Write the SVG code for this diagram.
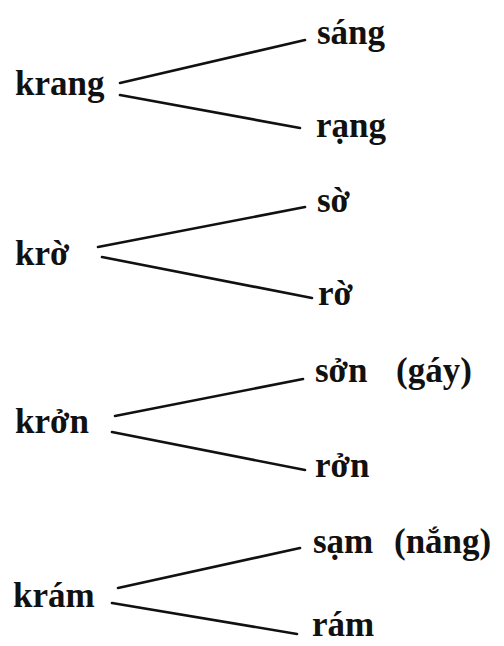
<svg xmlns="http://www.w3.org/2000/svg" width="504" height="646" viewBox="0 0 504 646">
<style>
text{font-family:"Liberation Serif","Times New Roman",serif;font-weight:bold;font-size:35px;fill:#111}
.c line{stroke:#111;stroke-width:2.6;stroke-linecap:round}
</style>
<rect width="504" height="646" fill="#fff"/>
<g class="c" id="connectors">
<line x1="120" y1="83" x2="305" y2="40"/>
<line x1="120" y1="95" x2="300" y2="128"/>
<line x1="98" y1="247" x2="305" y2="207"/>
<line x1="102" y1="257" x2="312" y2="298"/>
<line x1="115" y1="416" x2="303" y2="379"/>
<line x1="112" y1="432" x2="305" y2="470"/>
<line x1="118" y1="588" x2="300" y2="548"/>
<line x1="112" y1="603" x2="297" y2="634"/>
</g>
<g id="krang"><text x="15" y="95">krang</text></g>
<g id="sang"><text x="317" y="44">sáng</text></g>
<g id="rang"><text x="316" y="137">rạng</text></g>
<g id="kro"><text x="15" y="265">krờ</text></g>
<g id="so"><text x="317" y="212">sờ</text></g>
<g id="ro"><text x="318" y="305">rờ</text></g>
<g id="kron"><text x="15" y="433">krởn</text></g>
<g id="son"><text x="315" y="382">sởn <tspan x="396">(gáy)</tspan></text></g>
<g id="ron"><text x="315" y="477">rởn</text></g>
<g id="kram"><text x="13" y="607">krám</text></g>
<g id="sam"><text x="313" y="553">sạm <tspan x="394">(nắng)</tspan></text></g>
<g id="ram"><text x="312" y="636">rám</text></g>
</svg>
